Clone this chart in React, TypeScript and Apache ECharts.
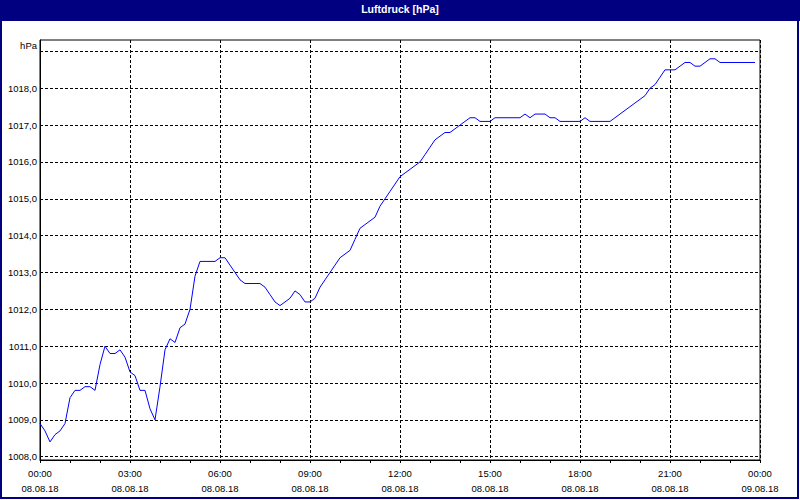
import React, { useEffect, useRef } from "react";
import * as echarts from "echarts";

const TITLE = "Luftdruck [hPa]";
const UNIT = "hPa";
const SAMPLE_STEP_MIN = 10;

// Pressure in hPa, one value every 10 minutes from 08.08.18 00:00 to 23:50
const PRESSURE: number[] = [
  1008.9, 1008.7, 1008.4, 1008.6, 1008.7, 1008.9, // 00
  1009.6, 1009.8, 1009.8, 1009.9, 1009.9, 1009.8, // 01
  1010.5, 1011.0, 1010.8, 1010.8, 1010.9, 1010.7, // 02
  1010.3, 1010.2, 1009.8, 1009.8, 1009.3, 1009.0, // 03
  1009.9, 1010.9, 1011.2, 1011.1, 1011.5, 1011.6, // 04
  1012.0, 1012.9, 1013.3, 1013.3, 1013.3, 1013.3, // 05
  1013.4, 1013.4, 1013.2, 1013.0, 1012.8, 1012.7, // 06
  1012.7, 1012.7, 1012.7, 1012.6, 1012.4, 1012.2, // 07
  1012.1, 1012.2, 1012.3, 1012.5, 1012.4, 1012.2, // 08
  1012.2, 1012.3, 1012.6, 1012.8, 1013.0, 1013.2, // 09
  1013.4, 1013.5, 1013.6, 1013.9, 1014.2, 1014.3, // 10
  1014.4, 1014.5, 1014.8, 1015.0, 1015.2, 1015.4, // 11
  1015.6, 1015.7, 1015.8, 1015.9, 1016.0, 1016.2, // 12
  1016.4, 1016.6, 1016.7, 1016.8, 1016.8, 1016.9, // 13
  1017.0, 1017.1, 1017.2, 1017.2, 1017.1, 1017.1, // 14
  1017.1, 1017.2, 1017.2, 1017.2, 1017.2, 1017.2, // 15
  1017.2, 1017.3, 1017.2, 1017.3, 1017.3, 1017.3, // 16
  1017.2, 1017.2, 1017.1, 1017.1, 1017.1, 1017.1, // 17
  1017.1, 1017.2, 1017.1, 1017.1, 1017.1, 1017.1, // 18
  1017.1, 1017.2, 1017.3, 1017.4, 1017.5, 1017.6, // 19
  1017.7, 1017.8, 1018.0, 1018.1, 1018.3, 1018.5, // 20
  1018.5, 1018.5, 1018.6, 1018.7, 1018.7, 1018.6, // 21
  1018.6, 1018.7, 1018.8, 1018.8, 1018.7, 1018.7, // 22
  1018.7, 1018.7, 1018.7, 1018.7, 1018.7, 1018.7, // 23
];

const X_TIME_LABELS = ["00:00", "03:00", "06:00", "09:00", "12:00", "15:00", "18:00", "21:00", "00:00"];
const X_DATE_LABELS = ["08.08.18", "08.08.18", "08.08.18", "08.08.18", "08.08.18", "08.08.18", "08.08.18", "08.08.18", "09.08.18"];
const X_MIN = 0;
const X_MAX = 1440;
const X_INTERVAL = 180;

const Y_GRID_VALUES = [1008, 1009, 1010, 1011, 1012, 1013, 1014, 1015, 1016, 1017, 1018, 1019];
const Y_LABEL_VALUES = [1008, 1009, 1010, 1011, 1012, 1013, 1014, 1015, 1016, 1017, 1018];
const Y_MIN = 1007.91;
const Y_MAX = 1019.31;

const FONT = '"Liberation Sans", Arial, sans-serif';
const NAVY = "#000080";

export default function App() {
  const ref = useRef<HTMLDivElement>(null);

  useEffect(() => {
    if (!ref.current) return;
    const chart = echarts.init(ref.current, null, { renderer: "svg" });
    const data = PRESSURE.map((v, i) => [i * SAMPLE_STEP_MIN, v]);

    chart.setOption({
      animation: false,
      backgroundColor: "#ffffff",
      title: {
        text: TITLE,
        left: "center",
        top: 3,
        padding: 0,
        textStyle: { color: "#ffffff", fontWeight: "bold", fontSize: 10.5, fontFamily: FONT },
      },
      graphic: [
        { type: "rect", z: 0, shape: { x: 0, y: 0, width: 800, height: 21 }, style: { fill: NAVY } },
        {
          type: "rect",
          z: 0,
          shape: { x: 1, y: 1, width: 797, height: 497 },
          style: { fill: "none", stroke: NAVY, lineWidth: 2 },
        },
      ],
      grid: {
        left: 40,
        right: 40,
        top: 40,
        bottom: 40,
        show: true,
        borderColor: "#000",
        borderWidth: 1,
        backgroundColor: "#ffffff",
        containLabel: false,
      },
      xAxis: {
        type: "value",
        min: X_MIN,
        max: X_MAX,
        interval: X_INTERVAL,
        axisLine: { show: true, lineStyle: { color: "#000", width: 1 } },
        axisTick: { show: true, length: 3, lineStyle: { color: "#000" } },
        minorTick: { show: true, splitNumber: 3, length: 3, lineStyle: { color: "#000" } },
        splitLine: { show: true, lineStyle: { color: "#000", type: [3, 2], width: 1 } },
        axisLabel: {
          margin: 6,
          color: "#000",
          fontSize: 9.5,
          fontFamily: FONT,
          lineHeight: 15,
          formatter: (v: number) => {
            const i = Math.round((v - X_MIN) / X_INTERVAL);
            return `${X_TIME_LABELS[i]}\n${X_DATE_LABELS[i]}`;
          },
        },
      },
      yAxis: {
        type: "value",
        min: Y_MIN,
        max: Y_MAX,
        name: UNIT,
        nameLocation: "end",
        nameGap: -5,
        nameTextStyle: { color: "#000", fontSize: 9.5, fontFamily: FONT, align: "right", verticalAlign: "middle", padding: [0, 3, 0, 0] },
        axisLine: { show: true, lineStyle: { color: "#000", width: 1 } },
        axisTick: { show: false, customValues: Y_GRID_VALUES },
        splitLine: { show: true, lineStyle: { color: "#000", type: [3, 2], width: 1 } },
        axisLabel: {
          customValues: Y_LABEL_VALUES,
          margin: 3,
          color: "#000",
          fontSize: 9.5,
          fontFamily: FONT,
          formatter: (v: number) => v.toFixed(1).replace(".", ","),
        },
      },
      series: [
        {
          type: "line",
          data,
          showSymbol: false,
          symbol: "none",
          lineStyle: { color: "#0000ff", width: 1 },
        },
      ],
    });

    return () => chart.dispose();
  }, []);

  return (
    <div
      ref={ref}
      style={{ position: "fixed", left: 0, top: 0, width: 800, height: 500 }}
    />
  );
}
